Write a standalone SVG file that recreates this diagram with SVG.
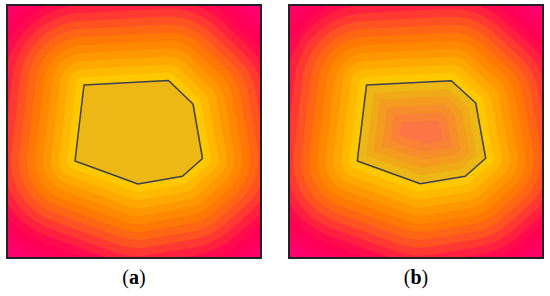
<svg xmlns="http://www.w3.org/2000/svg" xmlns:xlink="http://www.w3.org/1999/xlink" width="550" height="296" viewBox="0 0 550 296">
<style>
use{stroke-linejoin:round}
.o0{fill:#FFC800;stroke:#FFC800}
.o1{fill:#FFB900;stroke:#FFB900}
.o2{fill:#FFA800;stroke:#FFA800}
.o3{fill:#FF9800;stroke:#FF9800}
.o4{fill:#FF8800;stroke:#FF8800}
.o5{fill:#FF7806;stroke:#FF7806}
.o6{fill:#FF6614;stroke:#FF6614}
.o7{fill:#FF5222;stroke:#FF5222}
.o8{fill:#FF3832;stroke:#FF3832}
.o9{fill:#FF2040;stroke:#FF2040}
.o10{fill:#FF0A4C;stroke:#FF0A4C}
.o11{fill:#FF0056;stroke:#FF0056}
.o12{fill:#FF0061;stroke:#FF0061}
.o13{fill:#FF006D;stroke:#FF006D}
.bg{fill:#FF007A}
.i0{fill:none;stroke:#EDB816}
.i1{fill:none;stroke:#F0AA18}
.i2{fill:none;stroke:#F39C20}
.i3{fill:none;stroke:#F68E2A}
.i4{fill:none;stroke:#F98236}
.i5{fill:#FB7644}
.core{fill:#EDB816}
.edge{fill:none;stroke:#3C414C;stroke-width:1.5;stroke-linejoin:round}
.frame{fill:none;stroke:#222;stroke-width:2}
.lbl{font-family:"Liberation Serif",serif;font-size:20px;fill:#000;text-anchor:middle}
</style>
<defs>
<polygon id="pa" points="84,85 168.5,80.5 193,104 202.5,158.5 182.5,176.3 138,184 75,161"/>
<polygon id="pb" points="366.5,85 451.3,80.7 475.7,103 485.7,158.3 465.3,176.3 420.3,183.7 357.3,161"/>
<clipPath id="ca"><rect x="7" y="5" width="254" height="253"/></clipPath>
<clipPath id="cb"><rect x="289" y="5" width="254" height="253"/></clipPath>
<clipPath id="cpb"><use xlink:href="#pb"/></clipPath>
</defs>
<g id="panel-a">
<g clip-path="url(#ca)">
<rect class="bg" x="7" y="5" width="254" height="253"/>
<use xlink:href="#pa" class="o13" stroke-width="224"/>
<use xlink:href="#pa" class="o12" stroke-width="208"/>
<use xlink:href="#pa" class="o11" stroke-width="192"/>
<use xlink:href="#pa" class="o10" stroke-width="176"/>
<use xlink:href="#pa" class="o9" stroke-width="160"/>
<use xlink:href="#pa" class="o8" stroke-width="144"/>
<use xlink:href="#pa" class="o7" stroke-width="128"/>
<use xlink:href="#pa" class="o6" stroke-width="112"/>
<use xlink:href="#pa" class="o5" stroke-width="96"/>
<use xlink:href="#pa" class="o4" stroke-width="80"/>
<use xlink:href="#pa" class="o3" stroke-width="64"/>
<use xlink:href="#pa" class="o2" stroke-width="48"/>
<use xlink:href="#pa" class="o1" stroke-width="32"/>
<use xlink:href="#pa" class="o0" stroke-width="16"/>
<use xlink:href="#pa" class="core"/>
</g>
<use xlink:href="#pa" class="edge"/>
<rect class="frame" x="7" y="5" width="254" height="253"/>
<text class="lbl" x="134" y="284">(<tspan font-weight="bold">a</tspan>)</text>
</g>
<g id="panel-b">
<g clip-path="url(#cb)">
<rect class="bg" x="289" y="5" width="254" height="253"/>
<use xlink:href="#pb" class="o13" stroke-width="224"/>
<use xlink:href="#pb" class="o12" stroke-width="208"/>
<use xlink:href="#pb" class="o11" stroke-width="192"/>
<use xlink:href="#pb" class="o10" stroke-width="176"/>
<use xlink:href="#pb" class="o9" stroke-width="160"/>
<use xlink:href="#pb" class="o8" stroke-width="144"/>
<use xlink:href="#pb" class="o7" stroke-width="128"/>
<use xlink:href="#pb" class="o6" stroke-width="112"/>
<use xlink:href="#pb" class="o5" stroke-width="96"/>
<use xlink:href="#pb" class="o4" stroke-width="80"/>
<use xlink:href="#pb" class="o3" stroke-width="64"/>
<use xlink:href="#pb" class="o2" stroke-width="48"/>
<use xlink:href="#pb" class="o1" stroke-width="32"/>
<use xlink:href="#pb" class="o0" stroke-width="16"/>
<use xlink:href="#pb" class="i5"/>
<g clip-path="url(#cpb)">
<use xlink:href="#pb" class="i4" stroke-width="78"/>
<use xlink:href="#pb" class="i3" stroke-width="62"/>
<use xlink:href="#pb" class="i2" stroke-width="46"/>
<use xlink:href="#pb" class="i1" stroke-width="30"/>
<use xlink:href="#pb" class="i0" stroke-width="16"/>
</g>
</g>
<use xlink:href="#pb" class="edge"/>
<rect class="frame" x="289" y="5" width="254" height="253"/>
<text class="lbl" x="416" y="284">(<tspan font-weight="bold">b</tspan>)</text>
</g>
</svg>
